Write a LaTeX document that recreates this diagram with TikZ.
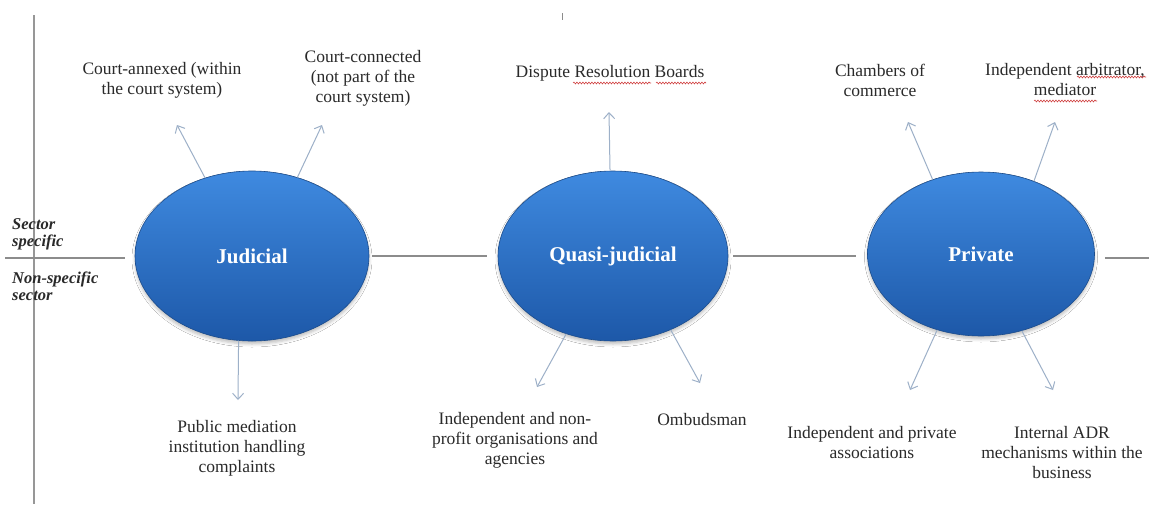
\documentclass[tikz,border=0pt]{standalone}
\usepackage{fontspec}
\setmainfont{Liberation Serif}
\usetikzlibrary{shapes.geometric,arrows.meta,shadows.blur,decorations.pathmorphing}
\definecolor{blobtop}{HTML}{3F8AE0}
\definecolor{blobbot}{HTML}{1D58A8}
\definecolor{blobedge}{HTML}{1B4C8C}
\definecolor{arrowc}{HTML}{9DB0C8}
\definecolor{linec}{HTML}{8C8C8C}
\definecolor{txtc}{HTML}{2A2A2A}
\definecolor{wavec}{HTML}{D04040}
\tikzset{
  blob/.style={ellipse, inner sep=0pt, top color=blobtop, bottom color=blobbot,
    draw=blobedge, line width=0.6pt, text=white,
    font=\fontsize{21}{24}\selectfont\bfseries,
    blur shadow={shadow xshift=0pt, shadow yshift=-3pt, shadow blur radius=3pt, shadow opacity=25}},
  lbl/.style={font=\fontsize{17.5}{20}\selectfont, align=center, text=txtc, inner sep=0pt},
  sect/.style={font=\fontsize{16.5}{17}\selectfont\bfseries\itshape, align=left, text=txtc, inner sep=0pt, anchor=west},
  arr/.style={draw=arrowc, line width=1pt, -{Straight Barb[length=6pt,width=11pt]}},
  hline/.style={draw=linec, line width=1.3pt},
  wave/.style={draw=wavec, line width=0.6pt, decorate, decoration={snake, amplitude=0.9pt, segment length=3pt}},
}
\begin{document}
\begin{tikzpicture}[x=1pt,y=-1pt]
\useasboundingbox[fill=white] (0,0) rectangle (1149,504);
% axis lines
\coordinate (vtop) at (34,15);
\coordinate (vbot) at (34,504);
\draw[hline, line width=1.6pt, draw=linec!90] (vtop) -- (vbot);
\coordinate (ttop) at (562,13);
\coordinate (tbot) at (562,20);
\draw[draw=linec, line width=1pt] (ttop) -- (tbot);
% ellipses
\node[blob, minimum width=234pt, minimum height=170pt] (jud) at (252,256) {Judicial};
\node[blob, minimum width=230pt, minimum height=170pt] (qj) at (613,256) {Quasi-judicial};
\node[blob, minimum width=227pt, minimum height=164pt] (pr) at (981,254) {Private};
% horizontal line
\coordinate (hl) at (5,258);
\coordinate (hr) at (1149,258);
\draw[hline, shorten >=10pt] (hl) -- (hl -| jud.west);
\draw[hline, shorten <=3pt, shorten >=11pt] (jud.east) -- (jud.east -| qj.west);
\draw[hline, shorten <=5pt, shorten >=11pt] (qj.east) -- (qj.east -| pr.west);
\draw[hline, shorten <=10pt] (hr -| pr.east) -- (hr);
% sector labels
\node[sect] (s1) at (12,234) {Sector\\specific};
\node[sect] (s2) at (12,286) {Non-specific\\sector};
% labels
\node[lbl] (l1) at (162,80) {Court-annexed (within\\the court system)};
\node[lbl] (l2) at (363,78) {Court-connected\\(not part of the\\court system)};
\node[lbl] (l3) at (237,448) {Public mediation\\institution handling\\complaints};
\node[lbl] (l4) at (610,73) {Dispute Resolution Boards};
\node[lbl] (l5) at (515,440) {Independent and non-\\profit organisations and\\agencies};
\node[lbl] (l6) at (702,420) {Ombudsman};
\node[lbl] (l7) at (880,80) {Chambers of\\commerce};
\node[lbl] (l8) at (1065,80) {Independent arbitrator,\\mediator};
\node[lbl] (l9) at (872,443) {Independent and private\\associations};
\node[lbl] (l10) at (1062,453) {Internal ADR\\mechanisms within the\\business};
% spell-check squiggles
\draw[wave] (573,83) -- (651,83);
\draw[wave] (656,83) -- (706,83);
\draw[wave] (1077,77) -- (1146,77);
\draw[wave] (1034,101) -- (1097,101);
% arrow tips
\coordinate (t1) at (177,125);
\coordinate (t2) at (322,125);
\coordinate (t3) at (238,400);
\coordinate (t4) at (609,112);
\coordinate (t5) at (537,387);
\coordinate (t6) at (700,383);
\coordinate (t7) at (908,122);
\coordinate (t8) at (1055,122);
\coordinate (t9) at (910,390);
\coordinate (t10) at (1053,390);
% arrows
\draw[arr] (jud.121) -- (t1);
\draw[arr] (jud.60) -- (t2);
\draw[arr] (jud.261) -- (t3);
\draw[arr] (qj.92) -- (t4);
\draw[arr] (qj.239) -- (t5);
\draw[arr] (qj.308) -- (t6);
\draw[arr] (pr.123) -- (t7);
\draw[arr] (pr.54) -- (t8);
\draw[arr] (pr.240) -- (t9);
\draw[arr] (pr.298) -- (t10);
\end{tikzpicture}
\end{document}
